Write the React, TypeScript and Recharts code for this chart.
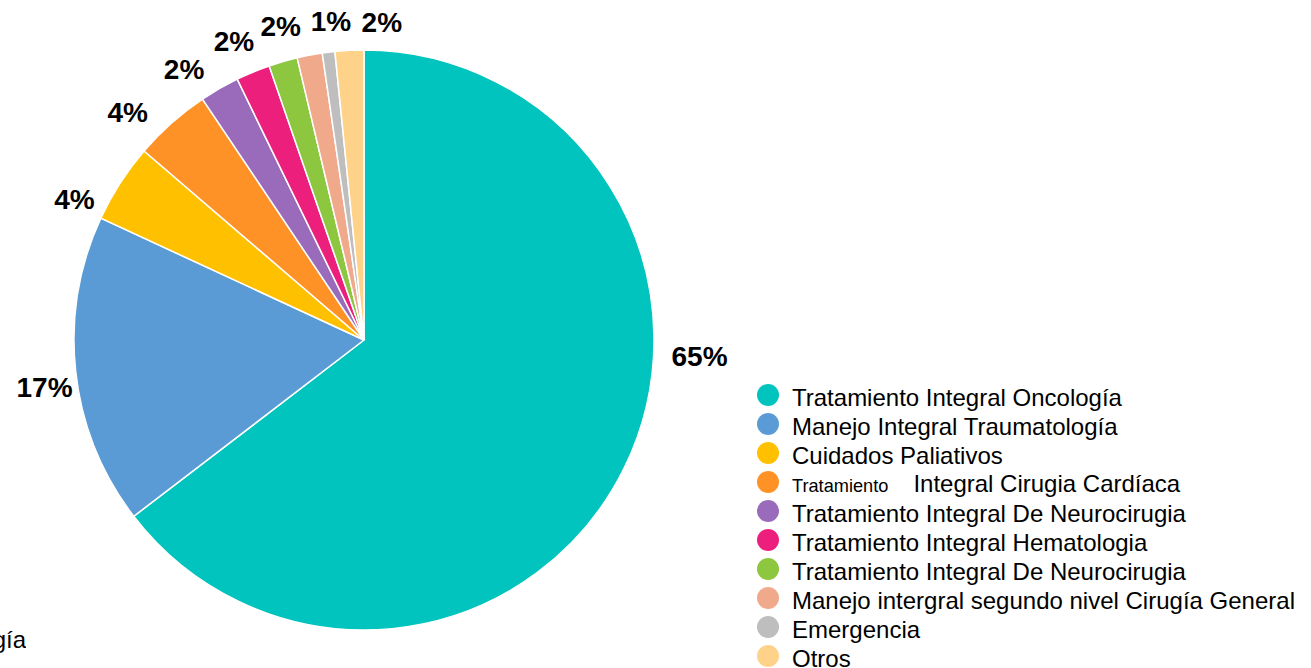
import React from "react";
import { PieChart, Pie, Cell } from "recharts";

const NAMES = [
  "Tratamiento Integral Oncología",
  "Manejo Integral Traumatología",
  "Cuidados Paliativos",
  "Tratamiento Integral Cirugia Cardíaca",
  "Tratamiento Integral De Neurocirugia",
  "Tratamiento Integral Hematologia",
  "Tratamiento Integral De Neurocirugia",
  "Manejo intergral segundo nivel Cirugía General",
  "Emergencia",
  "Otros",
];

const VALUES = [64.6, 17.3, 4.4, 4.3, 2.2, 1.9, 1.6, 1.4, 0.7, 1.6];

const COLORS = [
  "#00C4BD",
  "#5B9BD5",
  "#FFC000",
  "#FF9226",
  "#9A6ABB",
  "#EC1F7C",
  "#8DC63F",
  "#F0A98B",
  "#BEBEBE",
  "#FFD28A",
];

// style-only: label placement tweaks [angle nudge (deg), radial nudge (px)]
const LABEL_NUDGE: [number, number][] = [
  [23.4, 13],
  [2.2, 0],
  [6.8, -1],
  [4.5, 5],
  [3.8, 1.5],
  [1.0, 3],
  [-1.3, 1],
  [0, 0],
  [-1.1, -3],
  [-6.1, -5],
];
const HIDDEN_LABELS = [7];
const SMALL_PREFIX_INDEX = 3;

const data = NAMES.map((name, i) => ({ name, value: VALUES[i] }));

const FONT = "'Liberation Sans', Arial, sans-serif";

const renderLabel = (props: any) => {
  const { cx, cy, midAngle, outerRadius, percent, index } = props;
  if (HIDDEN_LABELS.includes(index)) return null;
  const [da, dr] = LABEL_NUDGE[index] || [0, 0];
  const a = ((midAngle + da) * Math.PI) / 180;
  const r = outerRadius + 33 + dr;
  const x = cx + r * Math.cos(a);
  const y = cy - r * Math.sin(a);
  return (
    <text
      x={x}
      y={y}
      textAnchor="middle"
      dominantBaseline="central"
      fontFamily={FONT}
      fontWeight="bold"
      fontSize={28}
      fill="#000"
    >
      {Math.round(percent * 100)}%
    </text>
  );
};

const LegendBlock = () => (
  <div
    style={{
      position: "absolute",
      left: 757,
      top: 383,
      width: 554,
      fontFamily: FONT,
      fontSize: 24,
      color: "#000",
    }}
  >
    {NAMES.map((name, i) => {
      let label: React.ReactNode = name;
      if (i === SMALL_PREFIX_INDEX) {
        const sp = name.indexOf(" ");
        label = (
          <>
            <span style={{ fontSize: 18.2 }}>{name.slice(0, sp)}</span>
            <span style={{ marginLeft: 25 }}>{name.slice(sp + 1)}</span>
          </>
        );
      }
      return (
        <div
          key={i}
          style={{
            display: "flex",
            alignItems: "center",
            height: 29,
            lineHeight: "29px",
            whiteSpace: "nowrap",
          }}
        >
          <span
            style={{
              display: "inline-block",
              width: 22,
              height: 22,
              borderRadius: "50%",
              background: COLORS[i],
              marginRight: 13,
              position: "relative",
              top: -3,
              flexShrink: 0,
            }}
          />
          <span>{label}</span>
        </div>
      );
    })}
  </div>
);

export default function App() {
  return (
    <div style={{ position: "relative", width: 1311, height: 668, overflow: "hidden", background: "#fff" }}>
      <style>{`body{margin:0;}`}</style>
      <PieChart width={1311} height={668} margin={{ top: 0, right: 0, bottom: 0, left: 0 }}>
        <Pie
          data={data}
          dataKey="value"
          nameKey="name"
          cx={364}
          cy={340}
          outerRadius={290}
          startAngle={90}
          endAngle={-270}
          stroke="#fff"
          strokeWidth={1.5}
          label={renderLabel}
          labelLine={false}
          isAnimationActive={false}
        >
          {data.map((_, i) => (
            <Cell key={i} fill={COLORS[i]} />
          ))}
        </Pie>
      </PieChart>
      <LegendBlock />
      <div
        style={{
          position: "absolute",
          left: 0,
          top: 625,
          width: 26,
          height: 40,
          overflow: "hidden",
          fontFamily: FONT,
          fontSize: 24,
          lineHeight: "29px",
          color: "#000",
        }}
      >
        <div style={{ position: "absolute", right: 0, top: 0, whiteSpace: "nowrap" }}>
          Tratamiento Integral Oncología
        </div>
      </div>
    </div>
  );
}
